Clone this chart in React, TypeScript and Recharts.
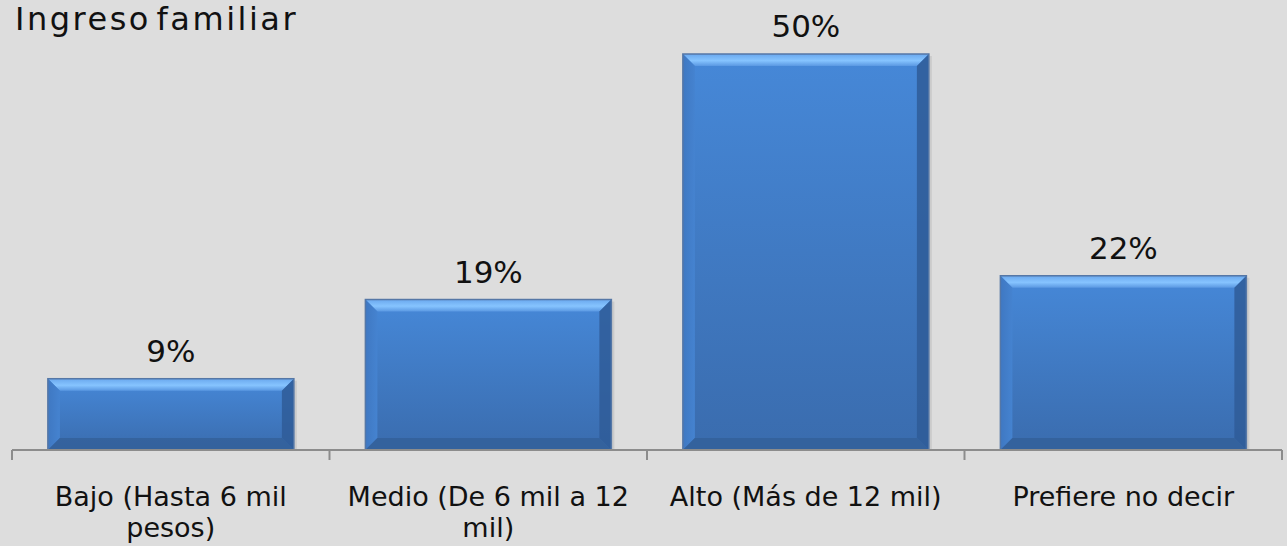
import { Bar, BarChart, LabelList, XAxis, YAxis } from "recharts";

const categories = [
  "Bajo (Hasta 6 mil pesos)",
  "Medio (De 6 mil a 12 mil)",
  "Alto (Más de 12 mil)",
  "Prefiere no decir",
];
const percents = [9, 19, 50, 22];

const data = categories.map((name, i) => ({ name, value: percents[i] }));

const W = 1287;
const H = 546;
const M = { top: 54, right: 5, bottom: 6, left: 12 };
const BAND = (W - M.left - M.right) / categories.length;
const FONT = "'DejaVu Sans', Verdana, sans-serif";
const TICK_SIZE = 27;

// greedy word wrap measured with a canvas
function wrap(text: string, maxWidth: number): string[] {
  const ctx = document.createElement("canvas").getContext("2d");
  if (!ctx) return [text];
  ctx.font = `${TICK_SIZE}px ${FONT}`;
  const lines: string[] = [];
  let cur = "";
  for (const w of text.split(" ")) {
    const next = cur ? cur + " " + w : w;
    if (cur && ctx.measureText(next).width > maxWidth) {
      lines.push(cur);
      cur = w;
    } else {
      cur = next;
    }
  }
  if (cur) lines.push(cur);
  return lines;
}

function BevelBar(props: any) {
  const { x, y, width, height } = props;
  if (!height || height <= 0) return null;
  const b = 12;
  const x2 = x + width;
  const y2 = y + height;
  return (
    <g>
      <rect x={x + 3} y={y + 2} width={width} height={height - 2} fill="#000" opacity={0.08} />
      <rect x={x} y={y} width={width} height={height} fill="url(#barBody)" />
      <polygon points={`${x},${y} ${x2},${y} ${x2 - b},${y + b} ${x + b},${y + b}`} fill="url(#barTop)" />
      <polygon points={`${x},${y} ${x + b},${y + b} ${x + b},${y2 - b} ${x},${y2}`} fill="url(#barLeft)" />
      <polygon points={`${x2},${y} ${x2},${y2} ${x2 - b},${y2 - b} ${x2 - b},${y + b}`} fill="#2f5c98" opacity={0.85} />
      <polygon points={`${x},${y2} ${x + b},${y2 - b} ${x2 - b},${y2 - b} ${x2},${y2}`} fill="#34609a" opacity={0.85} />
      <rect x={x} y={y} width={width} height={height} fill="none" stroke="#5577a6" strokeWidth={1.5} />
    </g>
  );
}

function BandTick(props: any) {
  const { x, y, payload, index } = props;
  const left = x - BAND / 2;
  const right = x + BAND / 2;
  const lines = wrap(String(payload.value), 290);
  return (
    <g>
      <line x1={left} y1={y - 8} x2={left} y2={y + 2} stroke="#8c8c8c" strokeWidth={2} />
      {index === categories.length - 1 && (
        <line x1={right} y1={y - 8} x2={right} y2={y + 2} stroke="#8c8c8c" strokeWidth={2} />
      )}
      <text
        x={x}
        y={y + 48}
        textAnchor="middle"
        fontSize={TICK_SIZE}
        fontFamily={FONT}
        fill="#111"
      >
        {lines.map((l, i) => (
          <tspan key={i} x={x} dy={i === 0 ? 0 : 31}>
            {l}
          </tspan>
        ))}
      </text>
    </g>
  );
}

export default function App() {
  return (
    <div
      style={{
        position: "absolute",
        left: 0,
        top: 0,
        width: W,
        height: H,
        background: "#dddddd",
        overflow: "hidden",
      }}
    >
      <div
        style={{
          position: "absolute",
          left: 15,
          top: 1,
          fontFamily: FONT,
          fontSize: 32,
          lineHeight: "37px",
          letterSpacing: 2.5,
          wordSpacing: -7,
          color: "#111",
        }}
      >
        Ingreso familiar
      </div>
      <BarChart width={W} height={H} data={data} margin={M} barCategoryGap="11.3%">
        <defs>
          <linearGradient id="barBody" x1="0" y1="0" x2="0" y2="1">
            <stop offset="0%" stopColor="#4688d8" />
            <stop offset="100%" stopColor="#3a6cae" />
          </linearGradient>
          <linearGradient id="barTop" x1="0" y1="0" x2="0" y2="1">
            <stop offset="0%" stopColor="#6aa8ee" />
            <stop offset="55%" stopColor="#86c4ff" />
            <stop offset="100%" stopColor="#5a98e2" />
          </linearGradient>
          <linearGradient id="barLeft" x1="0" y1="0" x2="1" y2="0">
            <stop offset="0%" stopColor="#3f78c2" />
            <stop offset="100%" stopColor="#4583d0" />
          </linearGradient>
        </defs>
        <XAxis
          dataKey="name"
          interval={0}
          height={90}
          tickLine={false}
          axisLine={{ stroke: "#8c8c8c", strokeWidth: 2 }}
          tick={<BandTick />}
        />
        <YAxis hide domain={[0, 50]} />
        <Bar dataKey="value" shape={<BevelBar />} isAnimationActive={false}>
          <LabelList
            dataKey="value"
            position="top"
            offset={17}
            formatter={(v: any) => `${v}%`}
            style={{ fontFamily: FONT, fontSize: 31, fill: "#111" }}
          />
        </Bar>
      </BarChart>
    </div>
  );
}
